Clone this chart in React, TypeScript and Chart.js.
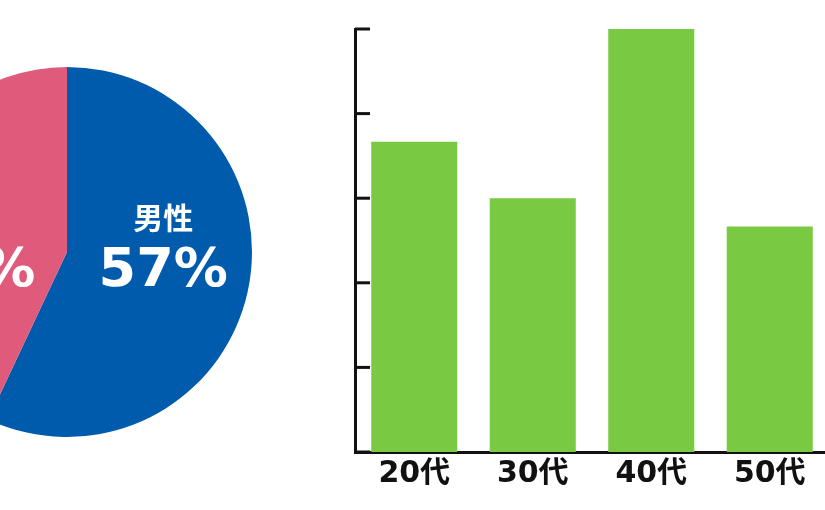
import React, { useEffect, useRef } from "react";
import { Chart, registerables } from "chart.js";

Chart.register(...registerables);

const genderLabels = ["男性", "女性"];
const genderValues = [57, 43];
const genderColors = ["#005bac", "#e05a7c"];

const ageLabels = ["20代", "30代", "40代", "50代"];
const ageValues = [22, 18, 30, 16];
const ageMax = 30;
const ageStep = 6;

const CJK = "'Noto Sans CJK JP', 'Noto Sans', sans-serif";
const WIDE = "'DejaVu Sans', 'Noto Sans CJK JP', sans-serif";

const pieLabelPlugin = {
  id: "pieLabels",
  afterDatasetsDraw(chart: any) {
    const ctx = chart.ctx;
    const meta = chart.getDatasetMeta(0);
    const data = chart.data.datasets[0].data as number[];
    meta.data.forEach((arc: any, i: number) => {
      const { x, y, outerRadius, startAngle, endAngle } = arc.getProps(
        ["x", "y", "outerRadius", "startAngle", "endAngle"],
        true
      );
      const mid = (startAngle + endAngle) / 2;
      const side = Math.cos(mid) >= 0 ? 1 : -1;
      const lx = x + side * outerRadius * 0.52;
      ctx.save();
      ctx.fillStyle = "#ffffff";
      ctx.textAlign = "center";
      ctx.textBaseline = "middle";
      ctx.font = `bold 30px ${CJK}`;
      ctx.fillText(chart.data.labels[i], lx, y - 34);
      ctx.font = `bold 54px ${WIDE}`;
      ctx.fillText(`${data[i]}%`, lx, y + 20);
      ctx.restore();
    });
  },
};

const innerTicksPlugin = {
  id: "innerTicks",
  afterDraw(chart: any) {
    const ctx = chart.ctx;
    const ys = chart.scales.y;
    const left = chart.chartArea.left;
    ctx.save();
    ctx.strokeStyle = "#111111";
    ctx.lineWidth = 3;
    ys.ticks.forEach((t: any) => {
      const py = ys.getPixelForValue(t.value);
      ctx.beginPath();
      ctx.moveTo(left, py);
      ctx.lineTo(left + 15, py);
      ctx.stroke();
    });
    ctx.restore();
  },
};

export default function App() {
  const pieRef = useRef<HTMLCanvasElement>(null);
  const barRef = useRef<HTMLCanvasElement>(null);

  useEffect(() => {
    const pie = new Chart(pieRef.current!, {
      type: "pie",
      data: {
        labels: genderLabels,
        datasets: [
          {
            data: genderValues,
            backgroundColor: genderColors,
            borderWidth: 0,
          },
        ],
      },
      options: {
        responsive: false,
        animation: false,
        layout: { padding: 0 },
        plugins: { legend: { display: false }, tooltip: { enabled: false } },
      },
      plugins: [pieLabelPlugin],
    });

    const bar = new Chart(barRef.current!, {
      type: "bar",
      data: {
        labels: ageLabels,
        datasets: [
          {
            data: ageValues,
            backgroundColor: "#7ac943",
            borderWidth: 0,
            categoryPercentage: 1,
            barPercentage: 0.726,
          },
        ],
      },
      options: {
        responsive: false,
        animation: false,
        layout: { padding: { left: 355, top: 29, right: 1, bottom: 0 } },
        plugins: { legend: { display: false }, tooltip: { enabled: false } },
        scales: {
          x: {
            grid: { display: false },
            border: { display: true, color: "#111111", width: 3 },
            ticks: {
              color: "#111111",
              padding: -4,
              font: { family: WIDE, size: 30, weight: "bold" },
            },
            afterFit: (s: any) => {
              s.height = 58;
            },
          },
          y: {
            min: 0,
            max: ageMax,
            grid: { display: false },
            border: { display: true, color: "#111111", width: 3 },
            ticks: { display: false, stepSize: ageStep },
            afterFit: (s: any) => {
              s.width = 0;
            },
          },
        },
      },
      plugins: [innerTicksPlugin],
    });

    return () => {
      pie.destroy();
      bar.destroy();
    };
  }, []);

  return (
    <div
      style={{
        position: "absolute",
        left: 0,
        top: 0,
        width: 825,
        height: 510,
        overflow: "hidden",
        background: "#ffffff",
      }}
    >
      <canvas
        ref={pieRef}
        width={370}
        height={370}
        style={{ position: "absolute", left: -118, top: 67, width: 370, height: 370 }}
      />
      <canvas
        ref={barRef}
        width={830}
        height={510}
        style={{ position: "absolute", left: 0, top: 0, width: 830, height: 510 }}
      />
    </div>
  );
}
